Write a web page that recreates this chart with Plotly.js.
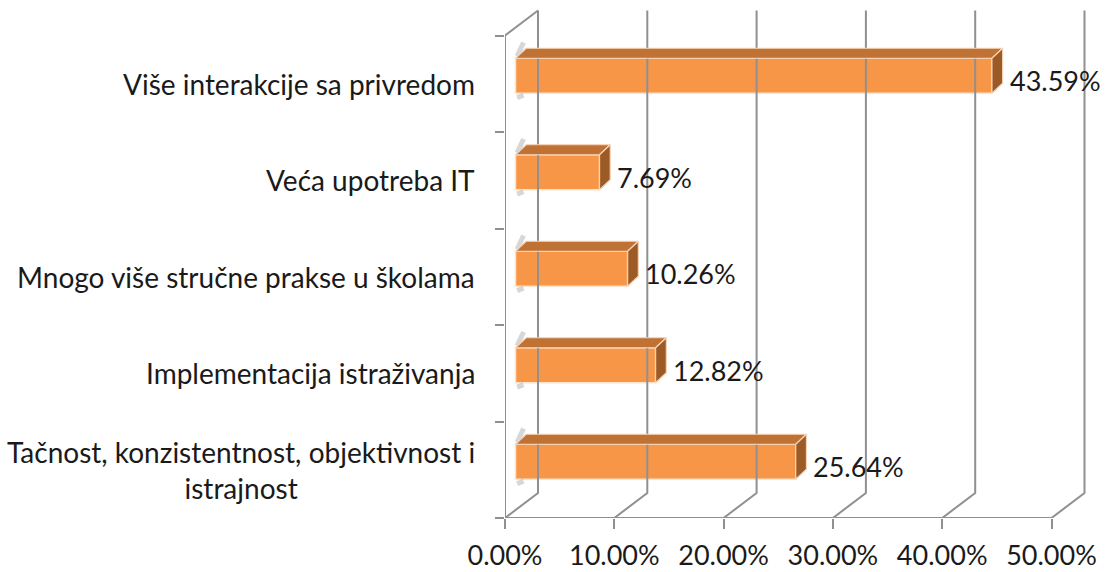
<!DOCTYPE html>
<html>
<head>
<meta charset="utf-8">
<script src="https://cdn.plot.ly/plotly-3.0.1.min.js"></script>
<style>
  html, body { margin: 0; padding: 0; background: #ffffff; }
  #chart { width: 1105px; height: 572px; }
</style>
</head>
<body>
<div id="chart"></div>
<script>
// ---- Data (bottom to top) ----
const categories = [
  "Tačnost, konzistentnost, objektivnost i<br>istrajnost",
  "Implementacija istraživanja",
  "Mnogo više stručne prakse u školama",
  "Veća upotreba IT",
  "Više interakcije sa privredom"
];
const values = [25.64, 12.82, 10.26, 7.69, 43.59];
const xTickValues = [0, 10, 20, 30, 40, 50];
const xTickText = ["0.00%", "10.00%", "20.00%", "30.00%", "40.00%", "50.00%"];

// ---- Geometry (pseudo-3D look) ----
const W = 1105, H = 572;
const M = { l: 505, r: 10, t: 8, b: 54 };
const plotW = W - M.l - M.r, plotH = H - M.t - M.b;
const pxPerX = 10.93;          // pixels per 1 %
const pxPerY = 96.5;           // pixels per category
const xMax = plotW / pxPerX;
const yMin = -0.5, yMax = yMin + plotH / pxPerY;
const nCat = categories.length;
const DX = 33 / pxPerX, DY = 25 / pxPerY;          // wall depth
const BX0 = 10.5 / pxPerX;                          // bar front offset
const BSHIFT = 8 / pxPerY;                          // bar front vertical shift
const BH = 35 / pxPerY;                             // bar height
const BDX = 10.7 / pxPerX, BDY = 10 / pxPerY;       // bar depth

const gridColor = '#909090';
const textColor = '#1a1a1a';
const fontFam = 'Lato, "Open Sans", sans-serif';
const catFontSize = 28;
const numFontSize = 27;

const traces = [];

// back-wall gridlines with floor diagonals
const gx = [], gy = [];
xTickValues.forEach(t => {
  gx.push(t, t + DX, t + DX, null);
  gy.push(yMin, yMin + DY, (nCat - 0.5) + DY, null);
});
gx.push(0, xTickValues[xTickValues.length - 1], null);
gy.push(yMin, yMin, null);
gx.push(0, 0, DX);
gy.push(yMin, nCat - 0.5, nCat - 0.5 + DY);
traces.push({
  type: 'scatter', mode: 'lines', x: gx, y: gy,
  line: { color: gridColor, width: 2 }, hoverinfo: 'skip', showlegend: false
});

// soft shadows of the bars on the side wall
const shx = [], shy = [];
values.forEach((v, i) => {
  const yt = i + BSHIFT + BH / 2, yb = i + BSHIFT - BH / 2;
  shx.push(BX0 + 0.15, BX0 + BDX * 0.75, null, BX0 + 0.15, BX0 + BDX * 0.75, null);
  shy.push(yt + 0.02, yt + BDY + 0.06, null, yb - 0.045, yb - 0.02, null);
});
traces.push({
  type: 'scatter', mode: 'lines', x: shx, y: shy,
  line: { color: 'rgba(140,140,140,0.35)', width: 5 }, hoverinfo: 'skip', showlegend: false
});

// front faces (real bars)
traces.push({
  type: 'bar', orientation: 'h',
  x: values,
  y: values.map((v, i) => i + BSHIFT),
  base: values.map(() => BX0),
  width: BH,
  marker: { color: '#F79646', line: { color: '#FCE3CF', width: 1.5 } },
  hoverinfo: 'skip', showlegend: false
});

// top faces
const tx = [], ty = [];
values.forEach((v, i) => {
  const yt = i + BSHIFT + BH / 2;
  tx.push(BX0, BX0 + v, BX0 + v + BDX, BX0 + BDX, BX0, null);
  ty.push(yt, yt, yt + BDY, yt + BDY, yt, null);
});
traces.push({
  type: 'scatter', mode: 'lines', x: tx, y: ty, fill: 'toself',
  fillcolor: '#BF7233', line: { color: '#F6D3B6', width: 1.2 },
  hoverinfo: 'skip', showlegend: false
});

// side faces
const sx = [], sy = [];
values.forEach((v, i) => {
  const yt = i + BSHIFT + BH / 2, yb = i + BSHIFT - BH / 2;
  sx.push(BX0 + v, BX0 + v + BDX, BX0 + v + BDX, BX0 + v, BX0 + v, null);
  sy.push(yt, yt + BDY, yb + BDY, yb, yt, null);
});
traces.push({
  type: 'scatter', mode: 'lines', x: sx, y: sy, fill: 'toself',
  fillcolor: '#9C5A26', line: { color: '#F6D3B6', width: 1.2 },
  hoverinfo: 'skip', showlegend: false
});

const annotations = [];
categories.forEach((c, i) => {
  annotations.push({
    xref: 'paper', x: 0, xanchor: 'right', xshift: -28,
    yref: 'y', y: i, yanchor: 'middle',
    text: c, align: 'center', showarrow: false,
    font: { family: fontFam, size: catFontSize, color: textColor }
  });
});
values.forEach((v, i) => {
  annotations.push({
    xref: 'x', x: BX0 + v + BDX, xanchor: 'left', xshift: 5,
    yref: 'y', y: i, yanchor: 'middle', yshift: 3,
    text: v.toFixed(2) + '%', showarrow: false,
    font: { family: fontFam, size: numFontSize, color: textColor }
  });
});

const layout = {
  width: W, height: H,
  margin: M,
  paper_bgcolor: '#ffffff', plot_bgcolor: 'rgba(0,0,0,0)',
  showlegend: false,
  xaxis: {
    range: [0, xMax], tickmode: 'array', tickvals: xTickValues, ticktext: xTickText,
    ticks: 'outside', ticklen: 10, tickwidth: 2, tickcolor: gridColor,
    ticklabelstandoff: 4,
    showgrid: false, zeroline: false, showline: false, fixedrange: true,
    tickfont: { family: fontFam, size: numFontSize, color: textColor }
  },
  yaxis: {
    range: [yMin, yMax],
    tickvals: Array.from({ length: nCat + 1 }, (_, k) => k - 0.5),
    ticks: 'outside', ticklen: 9, tickwidth: 2, tickcolor: gridColor,
    showticklabels: false, showgrid: false, zeroline: false, showline: false,
    fixedrange: true
  },
  annotations: annotations
};

Plotly.newPlot('chart', traces, layout, { displayModeBar: false, staticPlot: true });
</script>
</body>
</html>
